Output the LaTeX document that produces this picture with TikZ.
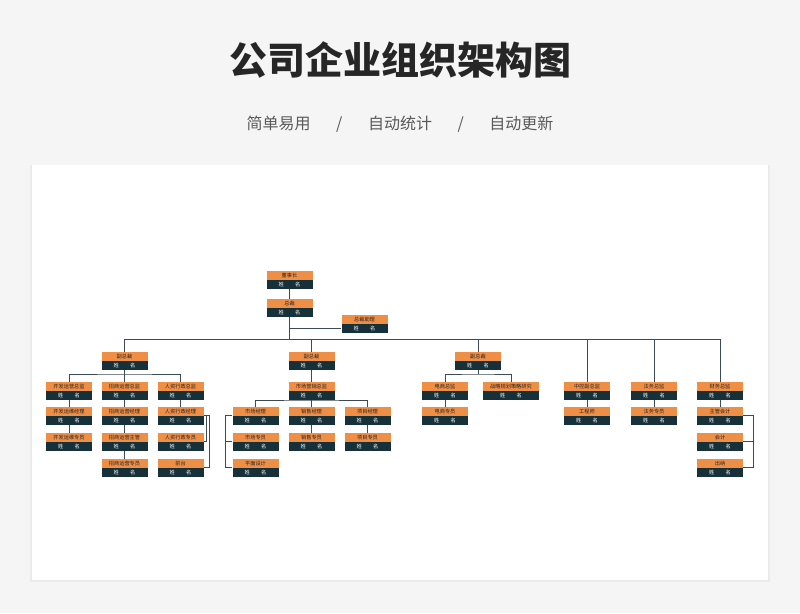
\documentclass[tikz,border=0pt]{standalone}
\usepackage{fontspec}
\setmainfont{Noto Sans CJK SC}
\begin{document}
\begin{tikzpicture}[x=1pt,y=-1pt,
 ttl/.style={fill=orgc,inner sep=0,minimum width=46pt,minimum height=8.5pt,anchor=north,font=\fontsize{5.2}{5.2}\selectfont,text=black!85},
 nm/.style={fill=darkc,inner sep=0,minimum width=46pt,minimum height=8.5pt,anchor=north,font=\fontsize{5.2}{5.2}\selectfont,text=white},
 ln/.style={draw=linec,line width=0.9pt}]
\definecolor{orgc}{HTML}{EF8E45}
\definecolor{darkc}{HTML}{17313B}
\definecolor{linec}{HTML}{3C4B52}
\useasboundingbox (0,0) rectangle (800,613);
\fill[black!4] (0,0) rectangle (800,613);
\fill[black!8] (30,165) rectangle (770,582);
\fill[white] (32,165) rectangle (768,580);
\node[font=\fontsize{38}{40}\selectfont\bfseries,text=black!85] (title) at (400,60) {公司企业组织架构图};
\node[font=\fontsize{16}{18}\selectfont,text=black!65] (sub) at (400,124) {简单易用\hspace{1.6em}/\hspace{1.6em}自动统计\hspace{1.6em}/\hspace{1.6em}自动更新};
\newcommand\pp[5][46pt]{\node[ttl,minimum width=#1] (#2) at (#3,#4) {#5};
 \node[nm,minimum width=#1] (#2b) at (#2.south) {姓\hspace{2.2em}名};}
\pp{ceo0}{289.5}{271}{董事长}
\pp{ceo}{289.5}{299}{总裁}
\pp{asst}{364.5}{315}{总裁助理}
\pp{vpa}{124.5}{352}{副总裁}
\pp{vpb}{311.5}{352}{副总裁}
\pp{vpc}{478}{352}{副总裁}
% vp a
\pp{a1}{69}{382}{开发运营总监}
\pp{a2}{69}{407}{开发运维经理}
\pp{a3}{69}{433}{开发运维专员}
\pp{b1}{124.5}{382}{招商运营总监}
\pp{b2}{124.5}{407}{招商运营经理}
\pp{b3}{124.5}{433}{招商运营主管}
\pp{b4}{124.5}{459}{招商运营专员}
\pp{c1}{180.5}{382}{人资行政总监}
\pp{c2}{180.5}{407}{人资行政经理}
\pp{c3}{180.5}{433}{人资行政专员}
\pp{c4}{180.5}{459}{前台}
% vp b
\pp{m0}{311.5}{382}{市场营销总监}
\pp{m1}{255.5}{407}{市场经理}
\pp{m2}{255.5}{433}{市场专员}
\pp{m3}{255.5}{459}{平面设计}
\pp{s1}{311.5}{407}{销售经理}
\pp{s2}{311.5}{433}{销售专员}
\pp{p1}{367.5}{407}{项目经理}
\pp{p2}{367.5}{433}{项目专员}
% vp c
\pp{e1}{445}{382}{电商总监}
\pp{e2}{445}{407}{电商专员}
\pp[56pt]{r1}{511}{382}{战略规划策略研究}
\pp{k1}{587}{382}{中控副总监}
\pp{k2}{587}{407}{工程师}
\pp{l1}{654}{382}{法务总监}
\pp{l2}{654}{407}{法务专员}
\pp{f1}{720}{382}{财务总监}
\pp{f2}{720}{407}{主管会计}
\pp{f3}{720}{433}{会计}
\pp{f4}{720}{459}{出纳}
% connectors
\draw[ln] (ceo0b.south) -- (ceo.north);
\coordinate (hub) at (289.5,339);
\draw[ln] (ceob.south) -- (hub);
\draw[ln] (ceob.south |- asstb.west) -- (asstb.west);
\draw[ln] (vpa.north) |- (hub);
\foreach \t in {vpb,vpc,k1,l1} \draw[ln] (hub) -| (\t.north);
\draw[ln] (hub) -| (f1.north);
\coordinate (ha) at (124.5,374);
\draw[ln] (vpab.south) -- (ha);
\draw[ln] (a1.north) |- (ha) -| (c1.north); \draw[ln] (ha) -- (b1.north);
\draw[ln] (a1b.south) -- (a2.north); \draw[ln] (a2b.south) -- (a3.north);
\draw[ln] (b1b.south) -- (b2.north); \draw[ln] (b2b.south) -- (b3.north); \draw[ln] (b3b.south) -- (b4.north);
\draw[ln] (c1b.south) -- (c2.north);
\draw[ln] (c2b.north east) -- ++(3,0) |- (c3b.north east);
\draw[ln] (c2b.north east) ++(3,0) -- ++(3,0) |- (c4b.north east);
\draw[ln] (vpbb.south) -- (m0.north);
\coordinate (hm) at (311.5,400);
\draw[ln] (m0b.south) -- (s1.north);
\draw[ln] (m1.north) |- (hm) -| (p1.north);
\draw[ln] (m1b.north west) -- ++(-7,0) |- (m3b.north west);
\draw[ln] (m2b.north west) -- ++(-7,0);
\draw[ln] (s1b.south) -- (s2.north); \draw[ln] (p1b.south) -- (p2.north);
\coordinate (hc) at (478,374);
\draw[ln] (vpcb.south) -- (hc);
\draw[ln] (e1.north) |- (hc) -| (r1.north);
\draw[ln] (e1b.south) -- (e2.north);
\draw[ln] (k1b.south) -- (k2.north);
\draw[ln] (l1b.south) -- (l2.north);
\draw[ln] (f1b.south) -- (f2.north);
\draw[ln] (f2b.north east) -- ++(10,0) |- (f4b.north east);
\draw[ln] (f3b.north east) -- ++(10,0);
\end{tikzpicture}
\end{document}
